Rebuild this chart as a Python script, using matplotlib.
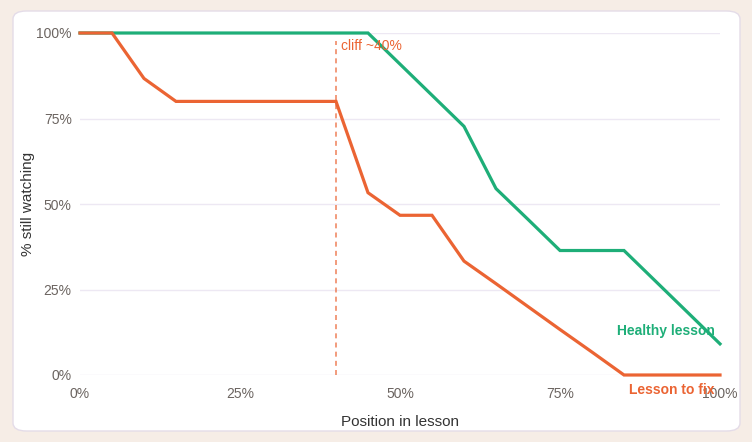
import matplotlib
matplotlib.use("Agg")
import matplotlib.pyplot as plt
from matplotlib.patches import FancyBboxPatch

plt.rcParams["font.family"] = ["Liberation Sans", "DejaVu Sans"]

positions = [0, 5, 10, 15, 20, 25, 30, 35, 40, 45, 50, 55, 60, 65, 70, 75, 80, 85, 90, 95, 100]
healthy = [100, 100, 100, 100, 100, 100, 100, 100, 100, 100, 90.9, 81.8, 72.7, 54.5, 45.5, 36.4, 36.4, 36.4, 27.3, 18.2, 9.1]
to_fix = [100, 100, 86.7, 80, 80, 80, 80, 80, 80, 53.3, 46.7, 46.7, 33.3, 26.7, 20, 13.3, 6.7, 0, 0, 0, 0]
ticks = [0, 25, 50, 75, 100]
tick_labels = ["0%", "25%", "50%", "75%", "100%"]
cliff_x = 40

GREEN = "#1eae78"
ORANGE = "#eb6433"
W, H = 752, 442

fig = plt.figure(figsize=(W / 100, H / 100), dpi=100)
fig.patch.set_facecolor("#f6ede6")
card = FancyBboxPatch((13 / W, 11 / H), 727 / W, 420 / H,
                      boxstyle="round,pad=0,rounding_size=0.018",
                      transform=fig.transFigure, facecolor="white",
                      edgecolor="#e4dce8", linewidth=1.0, zorder=-10)
fig.patches.append(card)

ax = fig.add_axes([80 / W, 1 - 375 / H, 640 / W, 342 / H])
ax.set_facecolor("none")
ax.set_xlim(0, 100)
ax.set_ylim(0, 100)
for s in ax.spines.values():
    s.set_visible(False)
ax.set_yticks(ticks)
ax.set_yticklabels(tick_labels)
ax.set_xticks(ticks)
ax.set_xticklabels(tick_labels)
ax.tick_params(length=0, labelsize=10, colors="#6b6460")
ax.tick_params(axis="y", pad=6)
ax.tick_params(axis="x", pad=9)
ax.grid(axis="y", color="#ede8f3", linewidth=1.0)
ax.grid(axis="x", visible=False)
ax.set_axisbelow(True)

ax.axvline(cliff_x, ymin=0, ymax=0.977, color=ORANGE, alpha=0.75,
           linestyle=(0, (3, 2.5)), linewidth=1.2)
ax.plot(positions, healthy, color=GREEN, linewidth=2.3, clip_on=False, zorder=3, solid_joinstyle="miter")
ax.plot(positions, to_fix, color=ORANGE, linewidth=2.3, clip_on=False, zorder=3, solid_joinstyle="miter")

ax.text(40.8, 96.3, "cliff ~40%", color=ORANGE, fontsize=10, ha="left", va="center")
ax.text(99.2, 12.9, "Healthy lesson", color=GREEN, fontsize=10, fontweight="bold",
        ha="right", va="center")
ax.text(99.2, -4.4, "Lesson to fix", color=ORANGE, fontsize=10, fontweight="bold",
        ha="right", va="center", clip_on=False)

ax.set_xlabel("Position in lesson", fontsize=11, color="#333333", labelpad=10)
ax.set_ylabel("% still watching", fontsize=11, color="#333333")
ax.yaxis.set_label_coords(-0.071, 0.5)

fig.savefig("out.png", dpi=100, facecolor=fig.get_facecolor())
